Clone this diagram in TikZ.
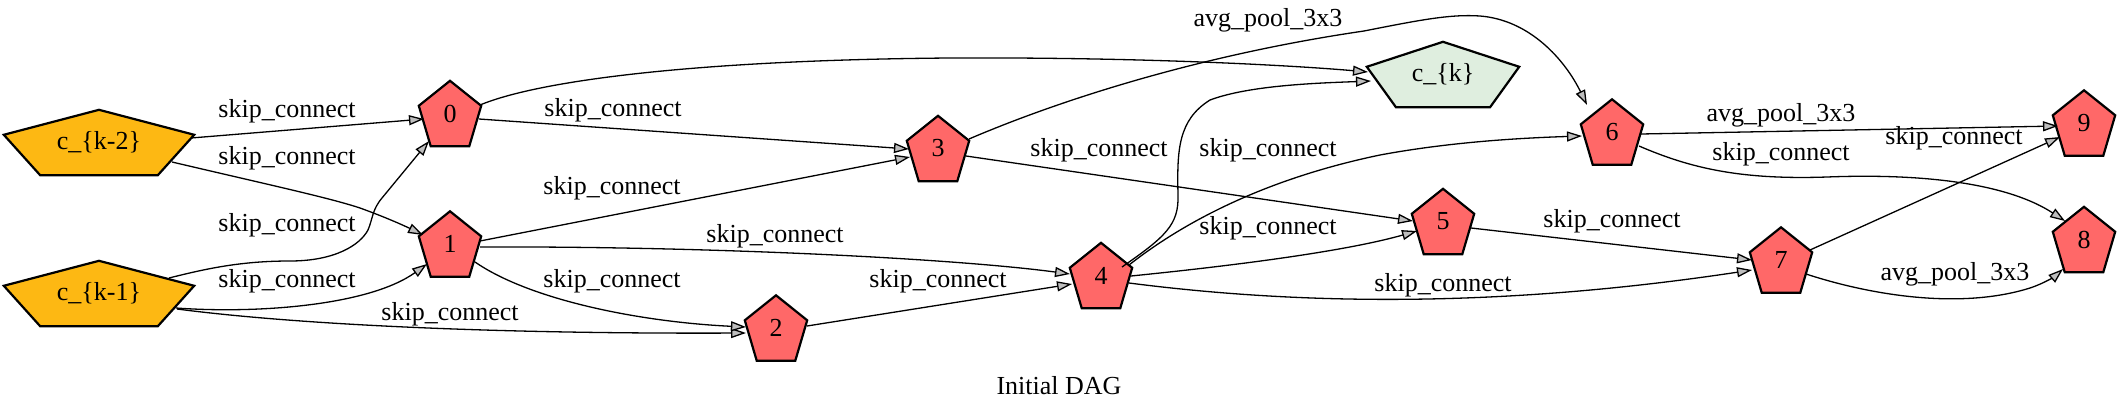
\documentclass[tikz,border=0pt]{standalone}
\usepackage{fontspec}
\setmainfont{Liberation Serif}
\usetikzlibrary{arrows.meta,calc,backgrounds}
\definecolor{redn}{HTML}{FF6868}
\definecolor{orn}{HTML}{FDB813}
\definecolor{grn}{HTML}{DFEEDF}
\definecolor{arrg}{HTML}{BEBEBE}
\tikzset{
 box/.style={draw=none, inner sep=0pt, minimum width=62pt, minimum height=65pt, font=\fontsize{26}{30}\selectfont},
 widebox/.style={box, minimum width=190pt},
 ckbox/.style={box, minimum width=152pt},
 border/.style={draw=black, line width=2.2pt, line join=miter},
 edge/.style={draw=black, line width=1.3pt, -{Triangle[length=15pt,width=10pt,fill=arrg]}},
 lbl/.style={anchor=base, inner sep=0pt, font=\fontsize{26}{30}\selectfont},
}
\newcommand\pentshape[2]{\path[border, fill=#2] (#1.north) -- ($(#1.north east)!0.382!(#1.south east)$) -- ($(#1.south)!0.618!(#1.south east)$) -- ($(#1.south)!0.618!(#1.south west)$) -- ($(#1.north west)!0.382!(#1.south west)$) -- cycle;}
\begin{document}
\begin{tikzpicture}[x=1pt,y=-1pt]
\useasboundingbox (0,0) rectangle (2118,407);
% nodes
\node[widebox] (k2) at (99,142.5) {c\_\{k-2\}};
\node[widebox] (k1) at (99,293.5) {c\_\{k-1\}};
\node[box] (n0) at (450,113.5) {0};
\node[box] (n1) at (450,244) {1};
\node[box] (n2) at (776,328) {2};
\node[box] (n3) at (938,148.5) {3};
\node[box] (n4) at (1101,275.5) {4};
\node[box] (n5) at (1443,221.5) {5};
\node[box] (n6) at (1612,132) {6};
\node[box] (n7) at (1781,260) {7};
\node[box] (n8) at (2084,239.5) {8};
\node[box] (n9) at (2084,123) {9};
\node[ckbox] (ck) at (1443,74.5) {c\_\{k\}};
\begin{pgfonlayer}{background}
\fill[white] (0,0) rectangle (2118,407);
\pentshape{k2}{orn}
\pentshape{k1}{orn}
\pentshape{n0}{redn}
\pentshape{n1}{redn}
\pentshape{n2}{redn}
\pentshape{n3}{redn}
\pentshape{n4}{redn}
\pentshape{n5}{redn}
\pentshape{n6}{redn}
\pentshape{n7}{redn}
\pentshape{n8}{redn}
\pentshape{n9}{redn}
\pentshape{ck}{grn}
\end{pgfonlayer}
% edges
\draw[edge] ($(k2)+(92,-4.5)$) -- ($(n0)+(-26,5.5)$);
\draw[edge] ($(k2)+(73,19.5)$) .. controls (270,185) and (330,198) .. (360,208) .. controls (385,217) and (405,226) .. ($(n1)+(-27,-9)$);
\draw[edge] ($(k1)+(70,-15.5)$) .. controls (205,269) and (240,261) .. (290,261) .. controls (335,261) and (360,245) .. (368,230) .. controls (373,218) and (372,210) .. (382,198) -- ($(n0)+(-21,27.5)$);
\draw[edge] ($(k1)+(77,14.5)$) .. controls (260,314) and (370,305) .. ($(n1)+(-23,20)$);
\draw[edge] ($(k1)+(78,15.5)$) .. controls (300,325) and (500,334) .. ($(n2)+(-30,5)$);
\draw[edge] ($(n0)+(29,5.5)$) -- ($(n3)+(-29,0.5)$);
\draw[edge] ($(n0)+(30,-8.5)$) .. controls (540,80) and (700,60) .. (950,58) .. controls (1150,57) and (1300,66) .. ($(ck)+(-75,-2.5)$);
\draw[edge] ($(n1)+(30,-3)$) -- ($(n3)+(-28,8.5)$);
\draw[edge] ($(n1)+(30,3)$) .. controls (700,246) and (950,258) .. ($(n4)+(-31,-1.5)$);
\draw[edge] ($(n1)+(25,18)$) .. controls (530,300) and (640,322) .. ($(n2)+(-30,-1)$);
\draw[edge] ($(n2)+(31,-2)$) -- ($(n4)+(-29,8.5)$);
\draw[edge] ($(n3)+(31,-9.5)$) .. controls (1060,100) and (1200,55) .. (1364,31) .. controls (1420,20) and (1450,14) .. (1480,16) .. controls (1530,20) and (1565,60) .. ($(n6)+(-25,-27)$);
\draw[edge] ($(n3)+(28,7.5)$) -- ($(n5)+(-30,-0.5)$);
\draw[edge] ($(n4)+(21,-8.5)$) .. controls (1165,237) and (1179,225) .. (1178,195) .. controls (1177,150) and (1178,120) .. (1210,100) .. controls (1250,85) and (1320,83) .. ($(ck)+(-72,6.5)$);
\draw[edge] ($(n4)+(28,-10.5)$) .. controls (1180,225) and (1260,180) .. (1380,155) .. controls (1450,142) and (1520,138) .. ($(n6)+(-30,4)$);
\draw[edge] ($(n4)+(30,0.5)$) .. controls (1250,264) and (1350,250) .. ($(n5)+(-26,9.5)$);
\draw[edge] ($(n4)+(28,7.5)$) .. controls (1300,305) and (1500,308) .. ($(n7)+(-29,10)$);
\draw[edge] ($(n5)+(28,6.5)$) -- ($(n7)+(-29,0)$);
\draw[edge] ($(n6)+(29,2)$) -- ($(n9)+(-26,3)$);
\draw[edge] ($(n6)+(27,14)$) .. controls (1690,168) and (1740,180) .. (1827,177) .. controls (1930,173) and (2010,185) .. ($(n8)+(-19,-18.5)$);
\draw[edge] ($(n7)+(29,-10)$) -- ($(n9)+(-24,14)$);
\draw[edge] ($(n7)+(25,14)$) .. controls (1870,295) and (1960,310) .. (2030,288) .. controls (2045,283) and (2055,276) .. ($(n8)+(-21,29.5)$);
% labels
\node[lbl] (l1) at (287,117) {skip\_connect};
\node[lbl] (l2) at (287,164) {skip\_connect};
\node[lbl] (l3) at (287,231) {skip\_connect};
\node[lbl] (l4) at (287,287) {skip\_connect};
\node[lbl] (l5) at (450,320) {skip\_connect};
\node[lbl] (l6) at (613,116) {skip\_connect};
\node[lbl] (l7) at (612,194) {skip\_connect};
\node[lbl] (l8) at (775,242) {skip\_connect};
\node[lbl] (l9) at (612,287) {skip\_connect};
\node[lbl] (l10) at (938,287) {skip\_connect};
\node[lbl] (l11) at (1268,26) {avg\_pool\_3x3};
\node[lbl] (l12) at (1099,156) {skip\_connect};
\node[lbl] (l13) at (1268,156) {skip\_connect};
\node[lbl] (l14) at (1268,234) {skip\_connect};
\node[lbl] (l15) at (1443,291) {skip\_connect};
\node[lbl] (l16) at (1612,227) {skip\_connect};
\node[lbl] (l17) at (1781,121) {avg\_pool\_3x3};
\node[lbl] (l18) at (1781,160) {skip\_connect};
\node[lbl] (l19) at (1954,144) {skip\_connect};
\node[lbl] (l20) at (1955,280) {avg\_pool\_3x3};
\node[lbl] (title) at (1059,394) {Initial DAG};
\end{tikzpicture}
\end{document}
